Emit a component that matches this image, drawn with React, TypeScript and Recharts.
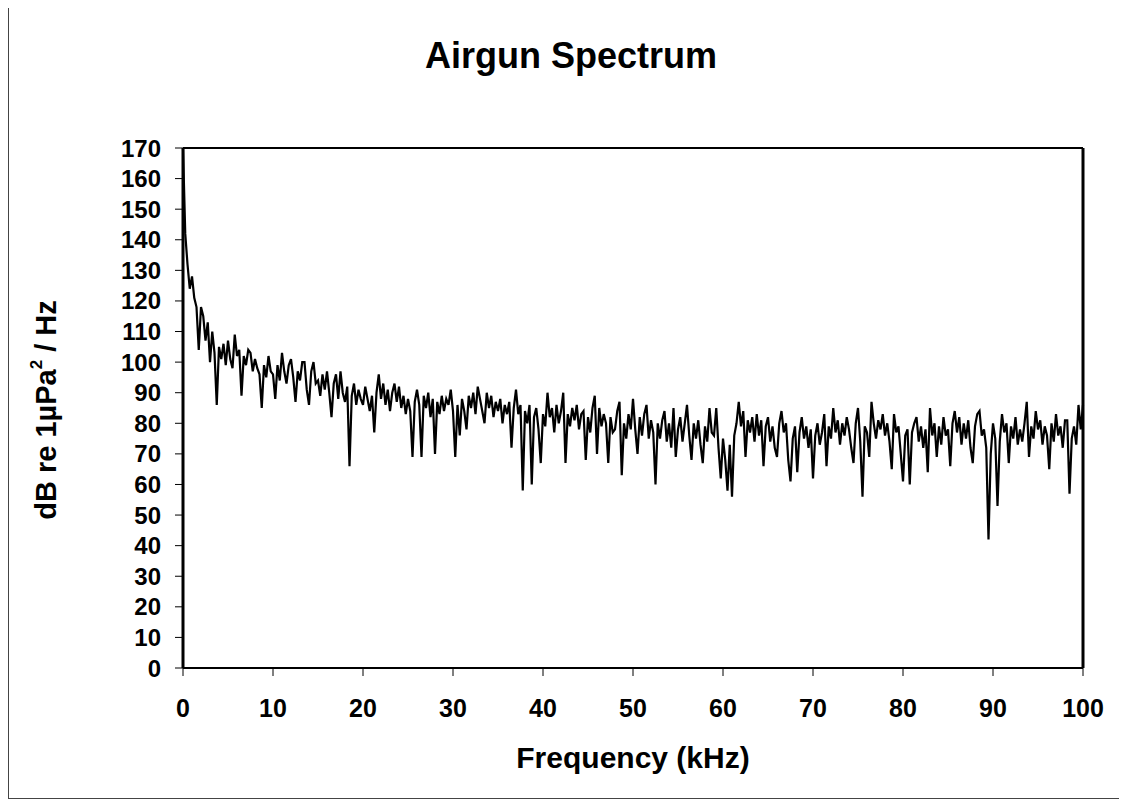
import React from 'react';
import { LineChart, Line, XAxis, YAxis, ReferenceLine } from 'recharts';

// Spectrum level (dB re 1µPa²/Hz), sampled every 0.25 kHz from 0 to 100 kHz
const dbValues: number[] = [
  // 0-9 kHz
  170, 142, 132, 124,
  128, 121, 118, 104,
  118, 115, 107, 113,
  100, 110, 103, 86,
  105, 101, 106, 99,
  107, 101, 98, 109,
  102, 104, 89, 102,
  99, 104, 103, 97,
  101, 98, 96, 85,
  99, 95, 102, 97,
  // 10-19
  96, 88, 99, 94,
  103, 97, 93, 99,
  101, 95, 87, 97,
  94, 100, 100, 91,
  86, 97, 100, 93,
  94, 89, 96, 91,
  97, 90, 82, 93,
  96, 88, 97, 90,
  87, 92, 66, 89,
  93, 86, 91, 88,
  // 20-29
  86, 92, 88, 84,
  89, 77, 90, 96,
  88, 93, 86, 91,
  84, 90, 93, 87,
  92, 85, 89, 83,
  88, 84, 69, 87,
  91, 86, 69, 89,
  85, 90, 82, 88,
  70, 87, 83, 89,
  84, 88, 86, 91,
  // 30-39
  84, 69, 86, 76,
  88, 84, 78, 89,
  85, 90, 83, 92,
  88, 84, 80, 90,
  85, 89, 82, 87,
  84, 88, 80, 86,
  83, 87, 72, 85,
  91, 83, 86, 58,
  84, 80, 86, 60,
  82, 85, 78, 67,
  // 40-49
  83, 79, 90, 82,
  85, 77, 86, 80,
  84, 90, 67, 83,
  79, 85, 81, 86,
  78, 83, 84, 68,
  82, 77, 85, 89,
  70, 85, 79, 83,
  80, 67, 82, 77,
  78, 84, 87, 63,
  80, 75, 83, 78,
  // 50-59
  88, 78, 70, 82,
  76, 83, 86, 75,
  81, 77, 60, 80,
  75, 81, 84, 74,
  80, 72, 85, 69,
  78, 82, 74, 80,
  86, 76, 68, 80,
  75, 81, 73, 67,
  79, 74, 85, 77,
  76, 85, 72, 62,
  // 60-69
  75, 68, 58, 73,
  56, 76, 80, 87,
  79, 84, 69, 81,
  77, 82, 74, 83,
  76, 81, 66, 79,
  82, 74, 79, 72,
  69, 80, 84, 77,
  80, 68, 61, 75,
  79, 64, 77, 82,
  75, 79, 72, 78,
  // 70-79
  62, 76, 80, 73,
  77, 83, 66, 79,
  75, 85, 77, 81,
  73, 80, 76, 82,
  78, 72, 67, 80,
  85, 74, 56, 79,
  77, 69, 87, 80,
  75, 81, 78, 83,
  76, 80, 74, 65,
  83, 77, 79, 70,
  // 80-89
  61, 76, 78, 60,
  77, 80, 82, 74,
  79, 72, 78, 64,
  85, 76, 80, 69,
  79, 73, 82, 76,
  78, 66, 80, 84,
  77, 82, 73, 80,
  75, 81, 72, 67,
  79, 83, 84, 76,
  78, 72, 42, 70,
  // 90-99
  80, 75, 53, 74,
  83, 77, 80, 67,
  79, 75, 82, 73,
  78, 74, 80, 87,
  69, 79, 75, 84,
  78, 81, 73, 79,
  76, 65, 80, 74,
  83, 76, 79, 72,
  81, 81, 57, 75,
  79, 73, 86, 78,
  // 100
  86,
];

const freqStep = 0.25;
const xTicks = [0, 10, 20, 30, 40, 50, 60, 70, 80, 90, 100];
const yTicks = [0, 10, 20, 30, 40, 50, 60, 70, 80, 90, 100, 110, 120, 130, 140, 150, 160, 170];

const data = dbValues.map((v, i) => ({ f: i * freqStep, db: v }));

const FONT = '"Liberation Sans", Arial, Helvetica, sans-serif';

export default function App() {
  return (
    <div
      style={{
        position: 'relative',
        width: 1117,
        height: 792,
        border: '1px solid #444',
        boxSizing: 'border-box',
        marginTop: -1,
        background: '#fff',
      }}
    >
      <div style={{ position: 'absolute', left: 0, top: 0 }}>
        <LineChart
          width={1115}
          height={790}
          data={data}
          margin={{ top: 140, right: 41, bottom: 70, left: 94 }}
        >
          <XAxis
            dataKey="f"
            type="number"
            domain={[0, 100]}
            ticks={xTicks}
            interval={0}
            height={60}
            axisLine={{ stroke: '#000', strokeWidth: 2 }}
            tickLine={{ stroke: '#000', strokeWidth: 1 }}
            tickSize={8}
            tickMargin={23}
            tick={{ fill: '#000', fontSize: 25, fontWeight: 'bold', fontFamily: FONT }}
          />
          <YAxis
            type="number"
            domain={[0, 170]}
            ticks={yTicks}
            interval={0}
            width={80}
            axisLine={{ stroke: '#000', strokeWidth: 3 }}
            tickLine={{ stroke: '#000', strokeWidth: 1 }}
            tickSize={8}
            tickMargin={14}
            tick={{ fill: '#000', fontSize: 24, fontWeight: 'bold', fontFamily: FONT }}
          />
          <ReferenceLine y={170} stroke="#000" strokeWidth={2} />
          <ReferenceLine x={100} stroke="#000" strokeWidth={3} />
          <Line
            type="linear"
            dataKey="db"
            stroke="#000"
            strokeWidth={2.2}
            dot={false}
            isAnimationActive={false}
          />
        </LineChart>
      </div>
      <svg
        width={1115}
        height={790}
        style={{ position: 'absolute', left: 0, top: 0, pointerEvents: 'none' }}
      >
        <text
          x={562}
          y={60}
          textAnchor="middle"
          fontFamily={FONT}
          fontWeight="bold"
          fontSize={36}
          fill="#000"
        >
          Airgun Spectrum
        </text>
        <text
          x={624}
          y={760}
          textAnchor="middle"
          fontFamily={FONT}
          fontWeight="bold"
          fontSize={30}
          fill="#000"
        >
          Frequency (kHz)
        </text>
        <text
          transform="translate(47, 402) rotate(-90)"
          textAnchor="middle"
          fontFamily={FONT}
          fontWeight="bold"
          fontSize={29}
          fill="#000"
        >
          dB re 1µPa
          <tspan fontSize={17} dy={-14}>2</tspan>
          <tspan dy={14}> / Hz</tspan>
        </text>
      </svg>
    </div>
  );
}
